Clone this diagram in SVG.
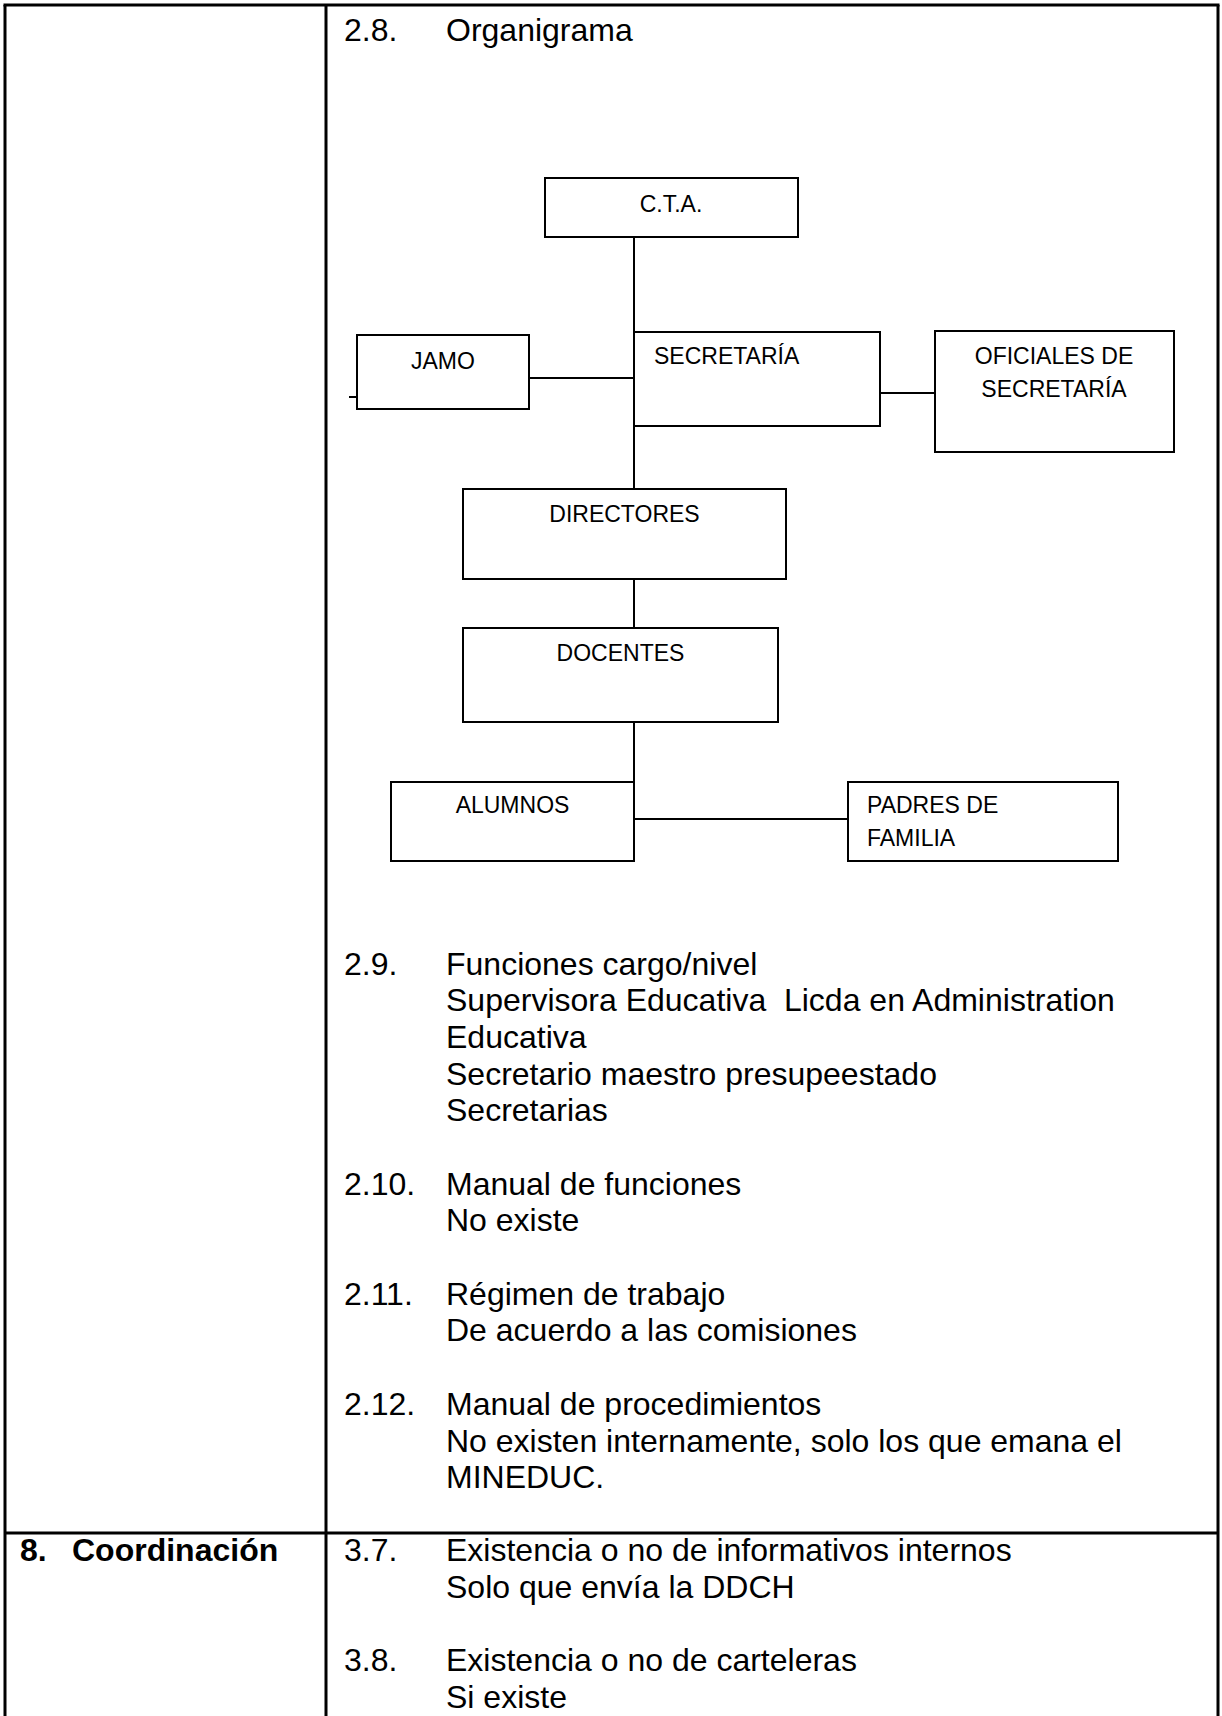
<svg xmlns="http://www.w3.org/2000/svg" width="1222" height="1716" viewBox="0 0 1222 1716">
<style>
.tbl{stroke:#000;stroke-width:3;fill:none}
.box{fill:#fff;stroke:#000;stroke-width:2}
.con{stroke:#000;stroke-width:2;fill:none}
.lbl{font-family:"Liberation Sans",Arial,sans-serif;font-size:23px;fill:#000}
.c{text-anchor:middle}
.body{font-family:"Liberation Sans",Arial,sans-serif;font-size:32px;fill:#000;white-space:pre}
.bold{font-weight:bold}
</style>
<rect width="1222" height="1716" fill="#fff"/>
<g id="table">
<line class="tbl" x1="3.5" y1="5" x2="1219.5" y2="5"/>
<line class="tbl" x1="5" y1="5" x2="5" y2="1716"/>
<line class="tbl" x1="1218" y1="5" x2="1218" y2="1716"/>
<line class="tbl" x1="326" y1="5" x2="326" y2="1716"/>
<line class="tbl" x1="5" y1="1533" x2="1218" y2="1533"/>
</g>
<g id="connectors">
<line class="con" x1="634" y1="237" x2="634" y2="782"/>
<line class="con" x1="529" y1="378" x2="634" y2="378"/>
<line class="con" x1="349" y1="397" x2="357" y2="397"/>
<line class="con" x1="880" y1="393" x2="935" y2="393"/>
<line class="con" x1="634" y1="819" x2="848" y2="819"/>
</g>
<g id="node-cta"><rect class="box" x="545" y="178" width="253" height="59"/><text class="lbl c" x="671" y="212">C.T.A.</text></g>
<g id="node-jamo"><rect class="box" x="357" y="335" width="172" height="74"/><text class="lbl" x="411" y="369">JAMO</text></g>
<g id="node-secretaria"><rect class="box" x="634" y="332" width="246" height="94"/><text class="lbl" x="654" y="364">SECRETARÍA</text></g>
<g id="node-oficiales"><rect class="box" x="935" y="331" width="239" height="121"/><text class="lbl c" x="1054" y="364">OFICIALES DE</text><text class="lbl c" x="1054" y="397">SECRETARÍA</text></g>
<g id="node-directores"><rect class="box" x="463" y="489" width="323" height="90"/><text class="lbl c" x="624.5" y="522">DIRECTORES</text></g>
<g id="node-docentes"><rect class="box" x="463" y="628" width="315" height="94"/><text class="lbl c" x="620.5" y="661">DOCENTES</text></g>
<g id="node-alumnos"><rect class="box" x="391" y="782" width="243" height="79"/><text class="lbl c" x="512.5" y="813">ALUMNOS</text></g>
<g id="node-padres"><rect class="box" x="848" y="782" width="270" height="79"/><text class="lbl" x="867" y="813">PADRES DE</text><text class="lbl" x="867" y="846">FAMILIA</text></g>
<g id="text-left">
<text class="body bold" x="20" y="1561">8.</text>
<text class="body bold" x="72" y="1561">Coordinación</text>
</g>
<g id="text-right">
<text class="body" x="344" y="41">2.8.</text><text class="body" x="446" y="41">Organigrama</text>
<text class="body" x="344" y="975">2.9.</text><text class="body" x="446" y="975">Funciones cargo/nivel</text>
<text class="body" x="446" y="1011">Supervisora Educativa  Licda en Administration</text>
<text class="body" x="446" y="1048">Educativa</text>
<text class="body" x="446" y="1085">Secretario maestro presupeestado</text>
<text class="body" x="446" y="1121">Secretarias</text>
<text class="body" x="344" y="1195">2.10.</text><text class="body" x="446" y="1195">Manual de funciones</text>
<text class="body" x="446" y="1231">No existe</text>
<text class="body" x="344" y="1305">2.11.</text><text class="body" x="446" y="1305">Régimen de trabajo</text>
<text class="body" x="446" y="1341">De acuerdo a las comisiones</text>
<text class="body" x="344" y="1415">2.12.</text><text class="body" x="446" y="1415">Manual de procedimientos</text>
<text class="body" x="446" y="1452">No existen internamente, solo los que emana el</text>
<text class="body" x="446" y="1488">MINEDUC.</text>
<text class="body" x="344" y="1561">3.7.</text><text class="body" x="446" y="1561">Existencia o no de informativos internos</text>
<text class="body" x="446" y="1598">Solo que envía la DDCH</text>
<text class="body" x="344" y="1671">3.8.</text><text class="body" x="446" y="1671">Existencia o no de carteleras</text>
<text class="body" x="446" y="1708">Si existe</text>
</g>
</svg>
